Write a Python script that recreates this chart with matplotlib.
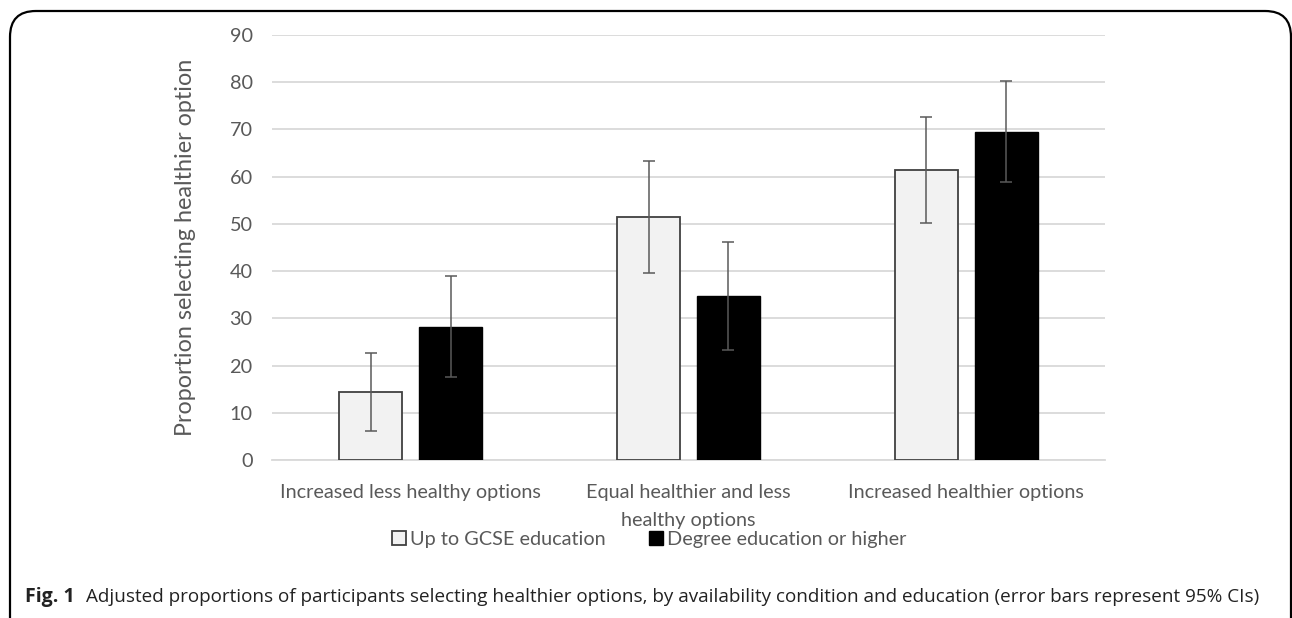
import matplotlib.pyplot as plt
from matplotlib.patches import FancyBboxPatch
import numpy as np

# availability conditions and adjusted proportions (%) with 95% CIs
conditions = ["Increased less healthy options",
              "Equal healthier and less\nhealthy options",
              "Increased healthier options"]
gcse = [14.4, 51.5, 61.4]
gcse_lo = [6.1, 39.7, 50.2]
gcse_hi = [22.6, 63.4, 72.6]
degree = [28.2, 34.8, 69.5]
degree_lo = [17.6, 23.4, 58.9]
degree_hi = [39.0, 46.2, 80.2]
yticks = [0, 10, 20, 30, 40, 50, 60, 70, 80, 90]

chart_font = "Lato"
grey = "#595959"

fig = plt.figure(figsize=(12.92, 6.18), dpi=100)
ax = fig.add_axes([272 / 1292, 1 - 460 / 618, 833 / 1292, 425 / 618])

x = np.arange(len(conditions))
w = 0.227
off = 0.144

g_err = [np.array(gcse) - np.array(gcse_lo), np.array(gcse_hi) - np.array(gcse)]
d_err = [np.array(degree) - np.array(degree_lo), np.array(degree_hi) - np.array(degree)]

ax.bar(x - off, gcse, w, color="#f2f2f2", edgecolor="#404040", linewidth=1.3,
       label="Up to GCSE education", zorder=3)
ax.bar(x + off, degree, w, color="black", edgecolor="black", linewidth=1.0,
       label="Degree education or higher", zorder=3)
ax.errorbar(x - off, gcse, yerr=g_err, fmt="none", ecolor="#5a5a5a",
            elinewidth=1.1, capsize=4.3, capthick=1.1, zorder=4)
ax.errorbar(x + off, degree, yerr=d_err, fmt="none", ecolor="#5a5a5a",
            elinewidth=1.1, capsize=4.3, capthick=1.1, zorder=4)

ax.set_xlim(-0.5, 2.5)
ax.set_ylim(0, 90)
ax.set_yticks(yticks)
ax.yaxis.grid(True, color="#d9d9d9", linewidth=1.3, zorder=0)
ax.set_axisbelow(True)
for s in ["top", "right", "left"]:
    ax.spines[s].set_visible(False)
ax.spines["bottom"].set_color("#d9d9d9")
ax.spines["bottom"].set_linewidth(1.3)
ax.tick_params(axis="both", length=0, labelsize=14.3, labelcolor=grey)
ax.tick_params(axis="y", pad=14)
ax.tick_params(axis="x", pad=17)
ax.set_xticks(x)
ax.set_xticklabels(conditions, family=chart_font, linespacing=1.8)
for lab in ax.get_yticklabels():
    lab.set_family(chart_font)
ax.set_ylabel("Proportion selecting healthier option", fontsize=16.8,
              color=grey, family=chart_font, labelpad=24)

leg = fig.legend(loc="center", bbox_to_anchor=(649 / 1292, 1 - 539 / 618),
                 ncol=2, frameon=False, handlelength=0.7, handleheight=0.7,
                 handletextpad=0.2, columnspacing=2.2,
                 prop={"family": chart_font, "size": 14.3})
for t in leg.get_texts():
    t.set_color(grey)

# caption below the chart
fig.text(25 / 1292, 1 - 597 / 618, "Fig. 1", fontsize=14, fontweight="bold",
         va="center", ha="left", family="Open Sans", color="#222222")
fig.text(86 / 1292, 1 - 597 / 618,
         "Adjusted proportions of participants selecting healthier options, "
         "by availability condition and education (error bars represent 95% CIs)",
         fontsize=13.55, va="center", ha="left", family="Open Sans", color="#222222")

# rounded frame, open at the bottom edge
frame = FancyBboxPatch((10 / 1292, -0.2), 1281 / 1292, 1.2 - 11 / 618,
                       boxstyle="round,pad=0,rounding_size=0.02",
                       transform=fig.transFigure, fill=False,
                       edgecolor="black", linewidth=1.6, mutation_aspect=2.1)
fig.patches.append(frame)

fig.savefig("out.png", dpi=100)
